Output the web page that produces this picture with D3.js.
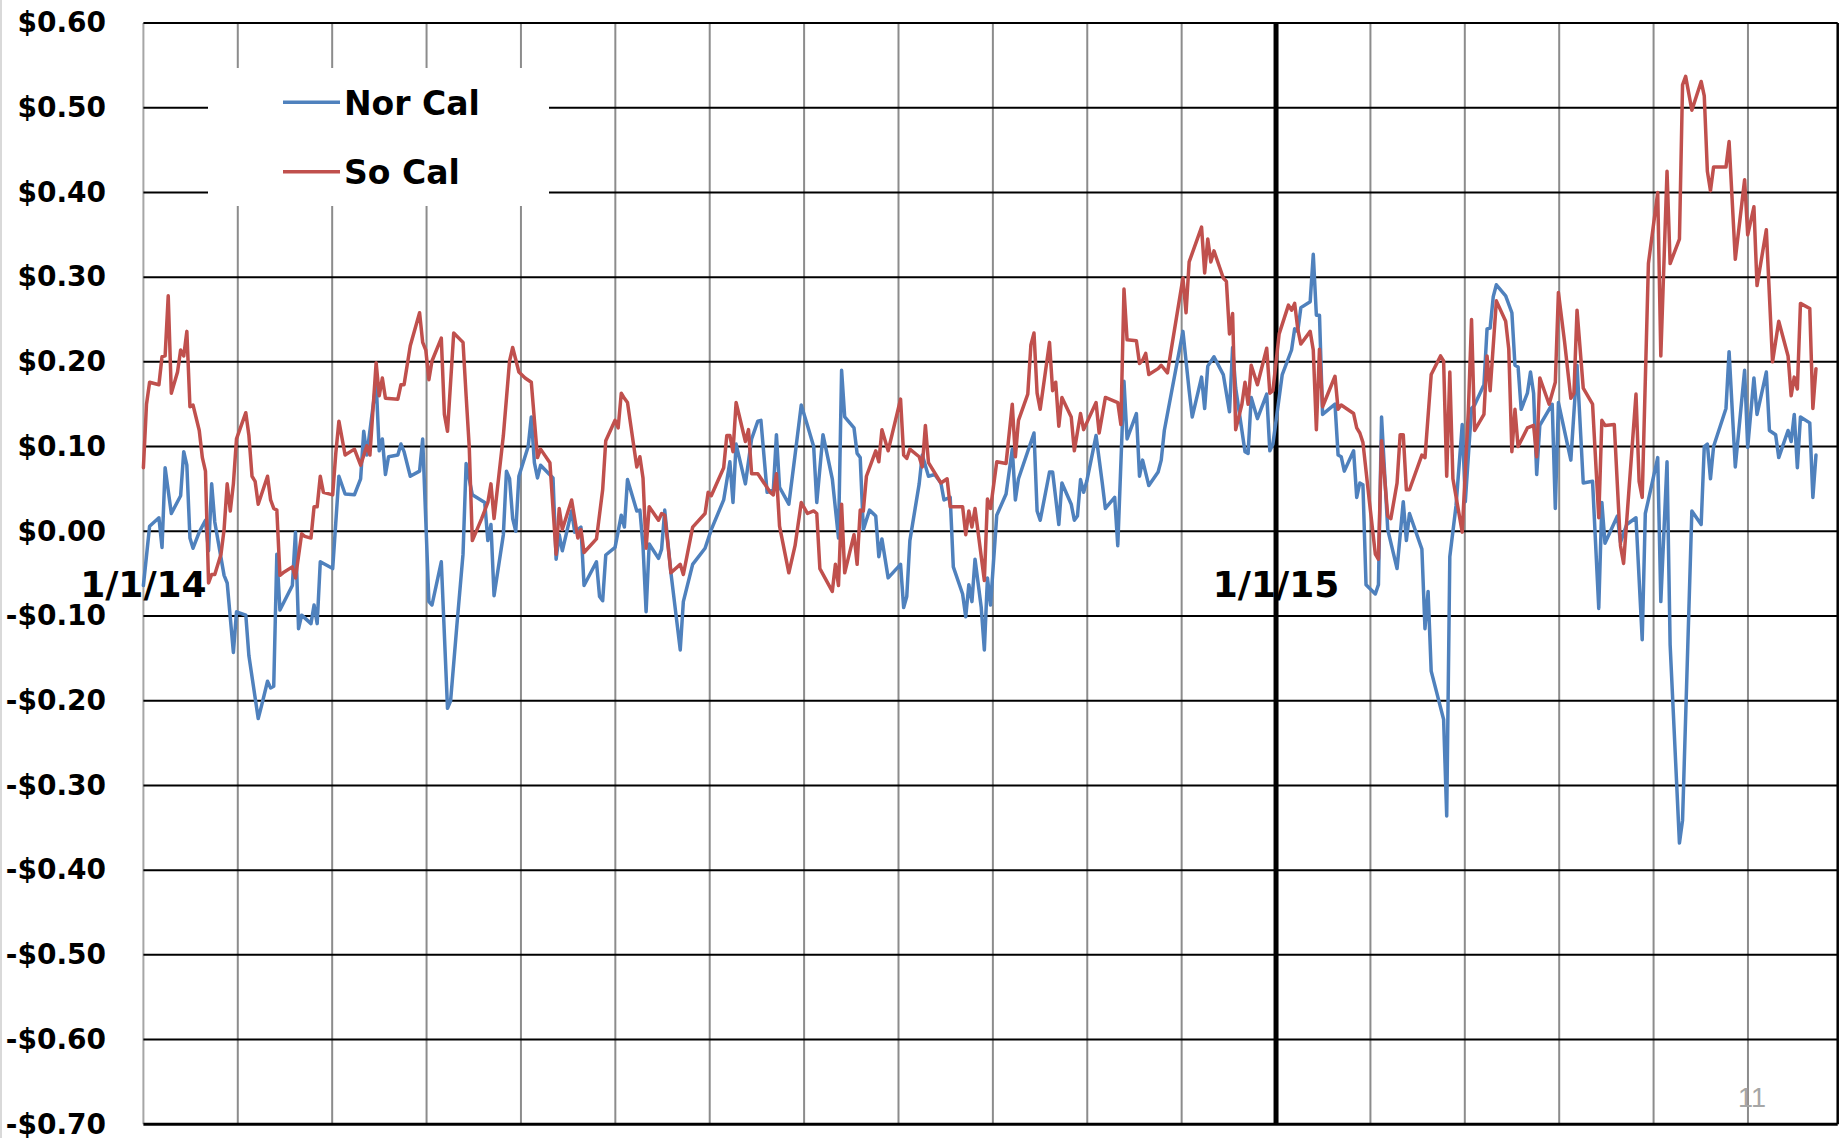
<!DOCTYPE html>
<html><head><meta charset="utf-8">
<script src="https://cdn.jsdelivr.net/npm/d3@7"></script>
<style>body{margin:0;background:#fff}svg{display:block}</style>
</head><body>
<script>
// ---------- DATA ----------
const startDate = "2014-01-01";
const endDate = "2015-07-01";
const seriesNames = ["Nor Cal", "So Cal"];
const seriesColors = ["#4F81BD", "#C0504D"];
const yTicks = [0.6, 0.5, 0.4, 0.3, 0.2, 0.1, 0.0, -0.1, -0.2, -0.3, -0.4, -0.5, -0.6, -0.7];
const xLabelDates = ["2014-01-01", "2015-01-01"];
const xLabels = ["1/1/14", "1/1/15"];
const markerDate = "2015-01-01";
const pageNumber = "11";

// [days since 1/1/14, $ value]
const norCal = [
[0,-0.064],[2,0.006],[5,0.016],[6,-0.019],[7,0.075],[9,0.021],[12,0.042],[13,0.094],[14,0.078],[15,-0.008],[16,-0.02],[18,-0.001],[20,0.013],[21,-0.023],[22,0.056],[23,0.011],[26,-0.052],[27,-0.061],[29,-0.143],[30,-0.095],[33,-0.099],[34,-0.147],[37,-0.221],[38,-0.207],[40,-0.177],[41,-0.185],[42,-0.183],[43,-0.027],[44,-0.093],[48,-0.064],[49,-0.001],[50,-0.115],[51,-0.099],[54,-0.109],[55,-0.087],[56,-0.109],[57,-0.036],[61,-0.044],[63,0.065],[65,0.044],[68,0.043],
[70,0.062],[71,0.118],[72,0.09],[75,0.176],[76,0.095],[77,0.109],[78,0.067],[79,0.088],[82,0.09],[83,0.103],[84,0.094],[86,0.065],[89,0.071],[90,0.109],[92,-0.083],[93,-0.087],[96,-0.036],[98,-0.209],[99,-0.2],[101,-0.112],[103,-0.027],[104,0.08],[106,0.043],[110,0.034],[111,-0.011],[112,0.008],[113,-0.076],[116,-0.004],[117,0.071],[118,0.062],[119,0.015],[120,0.0],[121,0.065],[124,0.1],[125,0.135],[126,0.081],[127,0.063],[128,0.078],[132,0.063],[133,-0.033],[134,-0.004],[135,-0.023],[138,0.024],
[139,-0.001],[141,0.005],[142,-0.064],[146,-0.036],[147,-0.077],[148,-0.082],[149,-0.028],[152,-0.019],[154,0.019],[155,0.005],[156,0.061],[159,0.024],[160,0.025],[161,-0.017],[162,-0.095],[163,-0.015],[166,-0.032],[167,-0.021],[168,0.025],[170,-0.049],[173,-0.14],[174,-0.083],[177,-0.039],[181,-0.02],[183,0.002],[187,0.037],[189,0.082],[190,0.034],[191,0.103],[194,0.056],[196,0.109],[198,0.13],[199,0.131],[201,0.046],[203,0.049],[204,0.114],[205,0.052],[208,0.032],
[210,0.09],[212,0.149],[214,0.125],[216,0.1],[217,0.034],[219,0.114],[222,0.062],[224,-0.008],[225,0.19],[226,0.135],[229,0.122],[230,0.092],[231,0.087],[232,0.002],[234,0.025],[236,0.018],[237,-0.03],[238,-0.009],[240,-0.055],[244,-0.039],[245,-0.09],[246,-0.077],[247,-0.011],[250,0.056],[251,0.09],[253,0.065],[255,0.067],[257,0.057],[258,0.037],[260,0.04],[261,-0.042],[264,-0.074],[265,-0.101],[266,-0.063],[267,-0.083],[268,-0.033],[270,-0.09],[271,-0.14],[272,-0.055],[273,-0.087],[275,0.019],
[278,0.044],[280,0.097],[281,0.037],[282,0.062],[287,0.116],[288,0.024],[289,0.013],[292,0.07],[293,0.07],[295,0.008],[296,0.057],[299,0.032],[300,0.013],[301,0.018],[302,0.061],[303,0.046],[304,0.059],[307,0.113],[309,0.057],[310,0.027],[313,0.04],[314,-0.017],[316,0.177],[317,0.109],[320,0.139],[321,0.065],[322,0.084],[324,0.054],[327,0.07],[328,0.084],[329,0.119],[335,0.236],[337,0.166],[338,0.135],[341,0.182],[342,0.145],[343,0.195],[345,0.206],
[348,0.185],[350,0.141],[351,0.217],[352,0.169],[355,0.094],[356,0.092],[357,0.158],[359,0.133],[362,0.162],[363,0.095],[364,0.103],[367,0.185],[370,0.214],[371,0.239],[372,0.236],[373,0.264],[376,0.271],[377,0.327],[378,0.255],[379,0.255],[380,0.138],[384,0.15],[385,0.09],[386,0.088],[387,0.071],[390,0.095],[391,0.04],[392,0.057],[393,0.055],[394,-0.063],[397,-0.074],[398,-0.063],[399,0.135],[401,0.002],[404,-0.044],[406,0.035],[407,-0.011],[408,0.021],[412,-0.021],[413,-0.115],[414,-0.071],
[415,-0.165],[419,-0.222],[420,-0.336],[421,-0.03],[423,0.03],[425,0.126],[426,0.035],[428,0.145],[429,0.149],[432,0.173],[433,0.239],[434,0.24],[435,0.277],[436,0.291],[439,0.278],[441,0.258],[442,0.196],[443,0.194],[444,0.144],[446,0.163],[447,0.188],[448,0.163],[449,0.067],[450,0.125],[454,0.15],[455,0.027],[456,0.152],[460,0.084],[462,0.196],[464,0.057],[467,0.059],[469,-0.091],[470,0.034],[471,-0.014],[475,0.018],[476,-0.013],[478,0.008],[481,0.016],[483,-0.128],[484,0.021],
[485,0.037],[488,0.087],[489,-0.083],[491,0.082],[492,-0.134],[495,-0.368],[496,-0.341],[499,0.024],[502,0.008],[503,0.1],[504,0.103],[505,0.062],[506,0.1],[510,0.145],[511,0.212],[513,0.076],[516,0.19],[517,0.099],[519,0.181],[520,0.138],[523,0.188],[524,0.119],[526,0.114],[527,0.087],[530,0.119],[531,0.106],[532,0.138],[533,0.075],[534,0.135],[537,0.128],[538,0.04],[539,0.09]
];

const soCal = [
[0,0.075],[1,0.15],[2,0.176],[5,0.173],[6,0.206],[7,0.207],[8,0.278],[9,0.163],[11,0.188],[12,0.214],[13,0.207],[14,0.236],[15,0.147],[16,0.149],[18,0.119],[19,0.087],[20,0.071],[21,-0.061],[22,-0.051],[23,-0.051],[25,-0.027],[26,0.002],[27,0.056],[28,0.024],[29,0.056],[30,0.109],[33,0.14],[34,0.113],[35,0.065],[36,0.059],[37,0.032],[40,0.065],[41,0.037],[42,0.027],[43,0.025],[44,-0.052],[45,-0.049],[48,-0.042],[49,-0.055],[51,-0.003],[52,-0.006],[54,-0.008],[55,0.029],[56,0.029],[57,0.065],[58,0.046],[61,0.043],[62,0.092],[63,0.13],[65,0.09],[68,0.097],
[70,0.078],[72,0.101],[73,0.09],[75,0.199],[76,0.16],[77,0.181],[78,0.157],[82,0.156],[83,0.173],[84,0.173],[86,0.219],[89,0.258],[90,0.223],[91,0.214],[92,0.179],[93,0.201],[96,0.228],[97,0.138],[98,0.118],[100,0.234],[103,0.223],[104,0.16],[105,0.1],[106,-0.011],[109,0.015],[111,0.034],[112,0.056],[113,0.015],[116,0.113],[118,0.201],[119,0.217],[121,0.188],[123,0.181],[125,0.176],[127,0.087],[128,0.097],[131,0.081],[133,-0.027],[134,0.027],[135,0.002],[138,0.037],
[140,-0.008],[141,0.002],[142,-0.025],[146,-0.009],[148,0.049],[149,0.107],[152,0.131],[153,0.122],[154,0.163],[155,0.157],[156,0.152],[159,0.076],[160,0.088],[161,0.063],[162,-0.02],[163,0.029],[166,0.013],[167,0.021],[168,0.019],[170,-0.049],[173,-0.039],[174,-0.051],[177,0.005],[181,0.021],[182,0.046],[183,0.042],[187,0.075],[188,0.113],[189,0.113],[190,0.094],[191,0.152],[194,0.106],[195,0.12],[196,0.068],[198,0.068],[202,0.046],[203,0.043],[204,0.068],[205,0.006],
[208,-0.049],[210,-0.017],[212,0.034],[214,0.021],[216,0.024],[217,0.021],[218,-0.044],[222,-0.071],[223,-0.039],[224,-0.064],[225,0.032],[226,-0.049],[229,-0.004],[230,-0.039],[231,0.025],[232,0.024],[233,0.065],[236,0.095],[237,0.082],[238,0.12],[240,0.095],[244,0.156],[245,0.09],[246,0.086],[247,0.097],[250,0.088],[251,0.076],[252,0.125],[253,0.081],[257,0.057],[259,0.062],[260,0.029],[264,0.029],[265,-0.004],[266,0.024],[267,0.005],[268,0.027],[271,-0.058],[272,0.038],[273,0.027],[275,0.082],
[278,0.08],[280,0.15],[281,0.088],[282,0.131],[285,0.162],[286,0.22],[287,0.234],[288,0.163],[289,0.144],[292,0.223],[293,0.166],[294,0.176],[295,0.124],[296,0.158],[299,0.135],[300,0.095],[302,0.139],[303,0.12],[307,0.152],[308,0.116],[310,0.158],[314,0.152],[315,0.126],[316,0.286],[317,0.226],[320,0.225],[321,0.198],[322,0.202],[323,0.21],[324,0.185],[327,0.192],[328,0.196],[330,0.187],[335,0.299],[336,0.258],[337,0.318],[341,0.359],[342,0.305],[343,0.345],[344,0.318],[345,0.331],
[348,0.299],[349,0.295],[350,0.233],[351,0.257],[352,0.12],[354,0.15],[355,0.176],[356,0.15],[357,0.196],[359,0.173],[362,0.216],[363,0.163],[364,0.166],[366,0.233],[369,0.267],[370,0.261],[371,0.269],[372,0.239],[373,0.221],[376,0.236],[377,0.214],[378,0.12],[379,0.215],[380,0.147],[384,0.183],[385,0.144],[386,0.149],[388,0.144],[390,0.139],[391,0.122],[392,0.116],[393,0.105],[395,0.038],[397,-0.027],[398,-0.033],[399,0.107],[401,0.018],[402,0.015],[404,0.057],[405,0.114],[406,0.114],[407,0.049],[408,0.049],[412,0.09],[413,0.087],[415,0.185],
[418,0.207],[419,0.201],[420,0.065],[421,0.188],[422,0.062],[425,-0.001],[427,0.144],[428,0.25],[429,0.119],[432,0.138],[433,0.207],[434,0.166],[436,0.272],[439,0.248],[440,0.215],[441,0.094],[442,0.144],[443,0.1],[446,0.122],[448,0.125],[449,0.088],[450,0.181],[453,0.15],[455,0.176],[456,0.282],[458,0.223],[460,0.157],[461,0.163],[462,0.261],[464,0.169],[467,0.15],[469,0.016],[470,0.131],[471,0.125],[474,0.126],[476,-0.017],[477,-0.038],[481,0.162],[482,0.059],[483,0.04],
[485,0.316],[488,0.4],[489,0.207],[491,0.425],[492,0.316],[495,0.345],[496,0.527],[497,0.537],[499,0.497],[502,0.531],[503,0.514],[504,0.425],[505,0.402],[506,0.43],[510,0.43],[511,0.46],[513,0.321],[516,0.415],[517,0.35],[519,0.383],[520,0.29],[523,0.356],[525,0.2],[527,0.248],[530,0.207],[531,0.16],[532,0.182],[533,0.168],[534,0.269],[537,0.263],[538,0.145],[539,0.192]
];

// ---------- CHART ----------
const W = 1843, H = 1138;
const M = {left: 143.4, right: 1837.7, top: 23, bottom: 1124.3};
const parse = d3.utcParse("%Y-%m-%d");
const t0 = parse(startDate), t1 = parse(endDate);
const x = d3.scaleUtc().domain([t0, t1]).range([M.left, M.right]);
const y = d3.scaleLinear().domain([-0.7, 0.6]).range([M.bottom, M.top]);
const boldFont = "'DejaVu Sans', Verdana, sans-serif";

const svg = d3.select("body").append("svg").attr("width", W).attr("height", H)
  .style("background", "#fff");

svg.append("rect").attr("x", 0).attr("y", 0).attr("width", 2).attr("height", H).attr("fill", "#d9d9d9");

// vertical gridlines (every 1/12 year)
const stepMs = 365 / 12 * 864e5;
const vDates = d3.range(1, 18).map(i => new Date(t0.getTime() + i * stepMs));
svg.append("g").selectAll("line").data(vDates).join("line")
  .attr("x1", d => x(d)).attr("x2", d => x(d))
  .attr("y1", y(0.6)).attr("y2", y(-0.7))
  .attr("stroke", "#8c8c8c").attr("stroke-width", 2);

// left axis line
svg.append("line").attr("x1", x(t0)).attr("x2", x(t0)).attr("y1", y(0.6)).attr("y2", y(-0.7))
  .attr("stroke", "#a6a6a6").attr("stroke-width", 2);

// horizontal gridlines
svg.append("g").selectAll("line").data(yTicks).join("line")
  .attr("x1", M.left).attr("x2", M.right)
  .attr("y1", d => y(d)).attr("y2", d => y(d))
  .attr("stroke", "#000").attr("stroke-width", d => d === -0.7 ? 3 : 2);

// right border
svg.append("line").attr("x1", M.right).attr("x2", M.right).attr("y1", y(0.6)).attr("y2", y(-0.7))
  .attr("stroke", "#000").attr("stroke-width", 2.5);

// 1/1/15 marker
const md = parse(markerDate);
svg.append("line").attr("x1", x(md)).attr("x2", x(md)).attr("y1", y(0.6)).attr("y2", y(-0.7))
  .attr("stroke", "#000").attr("stroke-width", 5);

// y labels
const fmt = v => (v < -1e-9 ? "-$" : "$") + Math.abs(v).toFixed(2);
svg.append("g").selectAll("text").data(yTicks).join("text")
  .attr("x", 106).attr("y", d => y(d)).attr("dy", "0.33em")
  .attr("text-anchor", "end").attr("font-family", boldFont).attr("font-weight", "bold")
  .attr("font-size", 28).attr("fill", "#000").text(d => fmt(d));

// x labels
svg.append("g").selectAll("text").data(xLabelDates).join("text")
  .attr("x", d => x(parse(d))).attr("y", y(0) + 66)
  .attr("text-anchor", "middle").attr("font-family", boldFont).attr("font-weight", "bold")
  .attr("font-size", 36).attr("fill", "#000").text((d, i) => xLabels[i]);

// series
const line = d3.line().x(d => x(d3.utcDay.offset(t0, d[0]))).y(d => y(d[1]));
[norCal, soCal].forEach((s, i) => {
  svg.append("path").datum(s).attr("d", line).attr("fill", "none")
    .attr("stroke", seriesColors[i]).attr("stroke-width", 3.5)
    .attr("stroke-linejoin", "round").attr("stroke-linecap", "round");
});

// legend
const lg = svg.append("g");
lg.append("rect").attr("x", 208).attr("y", 68).attr("width", 341).attr("height", 138).attr("fill", "#fff");
seriesNames.forEach((n, i) => {
  const ly = 102.3 + i * 69.4;
  lg.append("line").attr("x1", 283).attr("x2", 340).attr("y1", ly).attr("y2", ly)
    .attr("stroke", seriesColors[i]).attr("stroke-width", 3.5);
  lg.append("text").attr("x", 344).attr("y", ly + 12.5)
    .attr("font-family", boldFont).attr("font-weight", "bold").attr("font-size", 33)
    .attr("fill", "#000").text(n);
});

// page number
svg.append("text").attr("x", 1752).attr("y", 1107).attr("text-anchor", "middle")
  .attr("font-family", "'Liberation Sans', Arial, sans-serif").attr("font-size", 27)
  .attr("fill", "#a6a6a6").text(pageNumber);
</script>
</body></html>
